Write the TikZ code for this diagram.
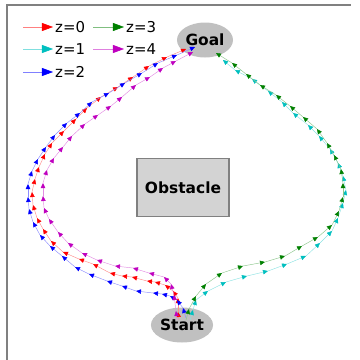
\documentclass[tikz,border=0pt]{standalone}
\usepackage{fontspec}
\setmainfont{DejaVu Sans}
\usetikzlibrary{arrows.meta,calc,shapes.geometric}
\definecolor{Frame}{HTML}{808080}
\definecolor{Blob}{HTML}{C0C0C0}
\definecolor{Block}{HTML}{D3D3D3}
\definecolor{ZeroRed}{HTML}{FF0000}
\definecolor{OneCyan}{HTML}{00BFBF}
\definecolor{TwoBlue}{HTML}{0000FF}
\definecolor{ThreeGreen}{HTML}{008000}
\definecolor{FourMagenta}{HTML}{BF00BF}

\begin{document}
\begin{tikzpicture}[x=1bp,y=-1bp,
  quiv/.style={draw=#1!45,line width=.45bp,-{Triangle[length=5bp,width=4.5bp,color=#1]}},
  key/.style={draw=#1!50,line width=.5bp,shorten >=2bp,-{Triangle[length=11bp,width=8bp,color=#1]}},
  keytext/.style={anchor=west,inner sep=0pt,font=\fontsize{15}{17}\selectfont},
  blob/.style={ellipse,fill=Blob,minimum width=56bp,minimum height=35bp,inner sep=0pt,font=\fontsize{15.5}{18}\selectfont\bfseries}]
\useasboundingbox (0,0) rectangle (360,360);
\draw[Frame,line width=1.3bp] (7,360)--(7,5)--(351,5);
\node[draw=Frame,fill=Block,line width=1.3bp,minimum width=92bp,minimum height=58bp,font=\fontsize{15.5}{18}\selectfont\bfseries] (obstacle) at (183,187.5) {Obstacle};
\node[blob] (goal) at (205,40) {Goal};
\node[blob] (start) at (182,325) {Start};
% z=0
\foreach \x/\y [remember=\x as \px (initially 179),remember=\y as \py (initially 320)] in
  {178/312,178/298,173/291,165/285,155/282,147/281,132/277,122/276,110/273,93/264,79/259,63/252,51/241,43/229,37/218,33/205,32/192,35/179,39/167,45/154,52/143,64/131,76/119,87/108,101/97,118/87,133/77,149/66,167/57,186/49}
  \draw[quiv=ZeroRed] (\px,\py)--(\x,\y);
% z=1
\foreach \x/\y [remember=\x as \px (initially 190),remember=\y as \py (initially 320)] in
  {193/310,196/300,208/291,226/282,247/276,268/271,287/264,306/256,320/243,332/231,338/218,343/203,346/190,343/176,338/163,330/149,319/136,308/125,293/113,282/102,268/91,252/79,235/70,223/60}
  \draw[quiv=OneCyan] (\px,\py)--(\x,\y);
% z=2
\foreach \x/\y [remember=\x as \px (initially 186),remember=\y as \py (initially 318)] in
  {183/308,177/300,170/296,162/294,153/293,136/291,122/286,107/281,89/274,75/267,62/256,50/246,40/235,33/222,29/209,28/197,28/184,32/171,38/159,46/147,55/135,67/123,80/113,92/102,109/93,125/83,142/73,158/63,177/55,195/47}
  \draw[quiv=TwoBlue] (\px,\py)--(\x,\y);
% z=3
\foreach \x/\y [remember=\x as \px (initially 186),remember=\y as \py (initially 320)] in
  {189/309,196/296,206/284,222/273,243/266,265/262,285/256,302/246,318/237,332/225,339/211,343/197,343/183,341/169,334/155,327/143,317/129,303/117,290/106,276/95,260/85,246/74,232/63,216/53}
  \draw[quiv=ThreeGreen] (\px,\py)--(\x,\y);
% z=4
\foreach \x/\y [remember=\x as \px (initially 177),remember=\y as \py (initially 320)] in
  {176/311,174/295,171/284,164/277,149/273,133/268,115/266,97/260,82/253,68/243,58/232,49/219,44/208,43/196,43/183,47/170,54/158,63/147,72/136,85/124,98/115,111/106,122/97,136/85,150/77,163/68,176/61,193/52}
  \draw[quiv=FourMagenta] (\px,\py)--(\x,\y);
% legend
\node[keytext] (z0) at (55,27) {z=0};
\node[keytext] (z1) at (55,49) {z=1};
\node[keytext] (z2) at (55,72) {z=2};
\node[keytext] (z3) at (126,27) {z=3};
\node[keytext] (z4) at (126,49) {z=4};
\draw[key=ZeroRed] ($(z0.west)+(-32,0)$)--(z0.west);
\draw[key=OneCyan] ($(z1.west)+(-32,0)$)--(z1.west);
\draw[key=TwoBlue] ($(z2.west)+(-32,0)$)--(z2.west);
\draw[key=ThreeGreen] ($(z3.west)+(-33,0)$)--(z3.west);
\draw[key=FourMagenta] ($(z4.west)+(-33,0)$)--(z4.west);
\end{tikzpicture}
\end{document}
